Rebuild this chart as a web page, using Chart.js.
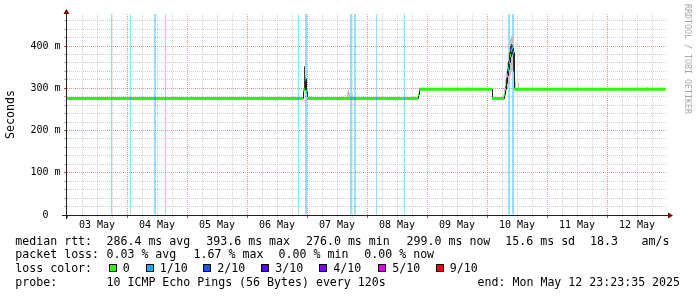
<!DOCTYPE html>
<html>
<head>
<meta charset="utf-8">
<script src="https://cdn.jsdelivr.net/npm/chart.js@4.4.1/dist/chart.umd.min.js"></script>
<style>
  body { margin: 0; background: #fff; }
  #wrap { position: relative; width: 697px; height: 297px; overflow: hidden; background: #fff; }
  #wrap canvas { position: absolute; left: 0; top: 0; }
  .t { position: absolute; font: 11.6px "DejaVu Sans Mono", monospace; line-height: 14px; white-space: pre; color: #000; }
  .box { position: absolute; width: 8px; height: 8px; box-sizing: border-box; border: 1px solid #000; top: 264px; }
  #wm { position: absolute; left: 683px; top: 4px; writing-mode: vertical-rl; font: 8.3px "DejaVu Sans Mono", monospace; line-height: 10px; color: #a8a8a8; white-space: pre; }
</style>
</head>
<body>
<div id="wrap">
  <canvas id="smoke" width="697" height="297"></canvas>
  <div class="t" style="left:15.3px;top:234px">median rtt:</div>
  <div class="t" style="left:106.5px;top:234px">286.4 ms avg</div>
  <div class="t" style="left:206.3px;top:234px">393.6 ms max</div>
  <div class="t" style="left:306px;top:234px">276.0 ms min</div>
  <div class="t" style="left:406.6px;top:234px">299.0 ms now</div>
  <div class="t" style="left:505.3px;top:234px">15.6 ms sd</div>
  <div class="t" style="left:590px;top:234px">18.3</div>
  <div class="t" style="left:641.6px;top:234px">am/s</div>

  <div class="t" style="left:15.3px;top:247px">packet loss:</div>
  <div class="t" style="left:106.5px;top:247px">0.03 % avg</div>
  <div class="t" style="left:193.6px;top:247px">1.67 % max</div>
  <div class="t" style="left:278.6px;top:247px">0.00 % min</div>
  <div class="t" style="left:364.3px;top:247px">0.00 % now</div>

  <div class="t" style="left:15.3px;top:261px">loss color:</div>
  <div id="losslegend"></div>

  <div class="t" style="left:15.3px;top:275px">probe:</div>
  <div class="t" style="left:106.5px;top:275px">10 ICMP Echo Pings (56 Bytes) every 120s</div>
  <div class="t" style="left:477.6px;top:275px">end: Mon May 12 23:23:35 2025</div>

  <div id="wm">RRDTOOL / TOBI OETIKER</div>
</div>
<script>
// time is in hours since 03 May 00:00, one rrd step is 0.4 h (24 min)
const STEP = 0.4;
const END_HOUR = 239.4;
const Y_MAX = 476;

const dayLabels = ["03 May", "04 May", "05 May", "06 May", "07 May", "08 May", "09 May", "10 May", "11 May", "12 May"];
const yTickValues = [0, 100, 200, 300, 400];
const yTickText = ["0  ", "100 m", "200 m", "300 m", "400 m"];

const lossLabels = ["0", "1/10", "2/10", "3/10", "4/10", "5/10", "9/10"];
const lossColors = ["#26ff00", "#00b8ff", "#0059ff", "#5e00ff", "#7e00ff", "#dd00ff", "#ff0000"];

// median rtt in ms, each value holds from its start hour to the next start
const medianStart = [0, 94.4, 95.2, 95.6, 96.0, 140.4, 140.8, 170.0, 174.8, 175.2, 175.6, 176.0, 176.4, 176.8, 177.2, 177.6, 178.0, 178.4, 178.8];
const medianValue = [276, 296, 322, 292, 276, 285, 298, 276, 285, 298, 312, 330, 345, 362, 378, 390, 395, 385, 298];

// steps with 1/10 packet loss
const lossStart = [17.6, 25.2, 34.8, 35.2, 39.2, 92.4, 95.2, 95.6, 113.2, 113.6, 114.8, 115.2, 123.6, 134.8, 176.4, 176.8, 178.0, 178.4];

// smoke: spread of the single pings (ms)
const smokeStart = [75.2, 110.4, 111.2, 112.0, 112.4, 112.8, 114.0, 142.4, 156.0, 160.0, 161.2, 174.4, 174.8, 175.2, 175.6, 176.0, 176.4, 176.8, 177.2, 177.6, 178.0, 178.4, 178.8, 179.2, 180.4, 218.0, 232.0];
const smokeLow  = [276, 276, 276, 276, 276, 276, 276, 298, 298, 298, 298, 272, 275, 282, 290, 300, 310, 320, 330, 340, 345, 320, 300, 296, 298, 298, 298];
const smokeHigh = [279, 282, 285, 291, 298, 289, 286, 302, 303, 304, 302, 284, 300, 320, 340, 362, 385, 405, 418, 425, 428, 420, 383, 318, 315, 302, 303];
// dense part of the smoke
const coreStart = [94.8, 175.2, 175.6, 176.0, 176.4, 176.8, 177.2, 177.6, 178.0, 178.4];
const coreLow   = [296, 290, 300, 315, 330, 345, 360, 375, 380, 340];
const coreHigh  = [352, 305, 325, 345, 365, 385, 400, 405, 402, 395];

const MONO = '"DejaVu Sans Mono", monospace';
const GRID_MINOR = 'rgba(191,191,191,0.75)';
const GRID_MAJOR = 'rgba(222,79,79,0.6)';
const NONE = 'rgba(0,0,0,0)';

// loss color legend row
const boxLeft = [108.7, 145.7, 203.3, 261.3, 319.3, 378.3, 435.7];
const legend = document.getElementById('losslegend');
lossLabels.forEach((lab, i) => {
  const b = document.createElement('div');
  b.className = 'box';
  b.style.left = boxLeft[i] + 'px';
  b.style.background = lossColors[i];
  legend.appendChild(b);
  const t = document.createElement('div');
  t.className = 't';
  t.style.left = (boxLeft[i] + 14) + 'px';
  t.style.top = '261px';
  t.textContent = lab;
  legend.appendChild(t);
});

const runs = medianStart.map((s, i) => ({
  s, e: i + 1 < medianStart.length ? medianStart[i + 1] : END_HOUR, v: medianValue[i]
}));
const medAt = (h) => {
  let v = medianValue[0];
  runs.forEach(r => { if (r.s <= h + 1e-6) v = r.v; });
  return v;
};

const bandData = [];
runs.forEach(r => bandData.push({x: r.s, y: r.v}, {x: r.e, y: r.v}, {x: r.e, y: null}));

const lineData = runs.map(r => ({x: r.s + STEP / 2, y: r.v}));
lineData.push({x: END_HOUR, y: medianValue[medianValue.length - 1]});

const lossBand = [];
lossStart.forEach(h => lossBand.push({x: h, y: medAt(h)}, {x: h + STEP, y: medAt(h)}, {x: h + STEP, y: null}));

const barBase = {type: 'bar', grouped: false, barThickness: 1, inflateAmount: 0, borderWidth: 0};

const tv = c => (c && c.tick ? c.tick.value : NaN);

const axisArrows = {
  id: 'axisArrows',
  afterDraw(chart) {
    const {ctx, chartArea: a} = chart;
    ctx.save();
    ctx.strokeStyle = '#212121';
    ctx.lineWidth = 1;
    ctx.beginPath();
    ctx.moveTo(a.left - 0.5, a.bottom + 4);
    ctx.lineTo(a.left - 0.5, a.top - 2);
    ctx.moveTo(a.left - 5, a.bottom + 0.5);
    ctx.lineTo(a.right + 2, a.bottom + 0.5);
    ctx.stroke();
    ctx.fillStyle = '#800000';
    ctx.beginPath();
    ctx.moveTo(a.left - 3.5, a.top);
    ctx.lineTo(a.left + 2.5, a.top);
    ctx.lineTo(a.left - 0.5, a.top - 5);
    ctx.fill();
    ctx.beginPath();
    ctx.moveTo(a.right + 1, a.bottom - 2.5);
    ctx.lineTo(a.right + 1, a.bottom + 3.5);
    ctx.lineTo(a.right + 6, a.bottom + 0.5);
    ctx.fill();
    ctx.restore();
  }
};

new Chart(document.getElementById('smoke'), {
  type: 'line',
  data: {
    datasets: [
      Object.assign({}, barBase, {
        order: 6,
        data: lossStart.map(h => ({x: h + STEP / 2, y: [0, Y_MAX]})),
        backgroundColor: 'rgba(0,184,255,0.42)'
      }),
      Object.assign({}, barBase, {
        order: 5,
        data: smokeStart.map((h, i) => ({x: h + STEP / 2, y: [smokeLow[i], smokeHigh[i]]})),
        backgroundColor: '#c4c4c4'
      }),
      Object.assign({}, barBase, {
        order: 4,
        data: coreStart.map((h, i) => ({x: h + STEP / 2, y: [coreLow[i], coreHigh[i]]})),
        backgroundColor: '#3a3a3a'
      }),
      {
        order: 3, data: lineData, stepped: true,
        borderColor: '#202020', borderWidth: 1, pointRadius: 0, fill: false
      },
      {
        order: 2, data: bandData, spanGaps: false,
        borderColor: lossColors[0], borderWidth: 3, borderCapStyle: 'butt', pointRadius: 0, fill: false
      },
      {
        order: 1, data: lossBand, spanGaps: false,
        borderColor: lossColors[1], borderWidth: 3, borderCapStyle: 'butt', pointRadius: 0, fill: false
      }
    ]
  },
  options: {
    responsive: false,
    animation: false,
    events: [],
    layout: { padding: { top: 14, right: 30, left: 0, bottom: 0 } },
    plugins: { legend: { display: false }, tooltip: { enabled: false } },
    scales: {
      x: {
        type: 'linear', min: 0, max: 240, offset: false,
        afterFit: s => { s.height = 82; },
        ticks: {
          stepSize: 6, autoSkip: false, maxRotation: 0, padding: 1,
          font: { family: MONO, size: 10 }, color: '#000',
          callback: v => (v % 24 === 12 ? dayLabels[(v - 12) / 24] : '')
        },
        grid: {
          offset: false,
          tickLength: 3,
          color: c => { const v = tv(c); return (!(v > 0) || v >= 240) ? NONE : (v % 24 === 0 ? GRID_MAJOR : GRID_MINOR); },
          tickColor: c => { const v = tv(c); return (isNaN(v) || v >= 240) ? NONE : (v % 24 === 0 ? '#c84040' : 'rgba(191,191,191,0.5)'); }
        },
        border: { display: false, dash: [1, 1] }
      },
      y: {
        min: 0, max: Y_MAX,
        afterFit: s => { s.width = 67; },
        title: {
          display: true, text: 'Seconds', color: '#000',
          font: { family: MONO, size: 11.6, lineHeight: 1.2 },
          padding: { top: 4, bottom: 0 }
        },
        ticks: {
          stepSize: 20, autoSkip: false, includeBounds: false, padding: 3.5,
          font: { family: MONO, size: 10 }, color: '#000',
          callback: v => { const i = yTickValues.indexOf(v); return i >= 0 ? yTickText[i] : ''; }
        },
        grid: {
          tickLength: 3,
          color: c => { const v = tv(c); return (!(v > 0) || v % 20 !== 0) ? NONE : (v % 100 === 0 ? GRID_MAJOR : GRID_MINOR); },
          tickColor: c => { const v = tv(c); return (isNaN(v) || v % 20 !== 0) ? NONE : (v % 100 === 0 ? '#c84040' : 'rgba(160,160,160,0.8)'); }
        },
        border: { display: false, dash: [1, 1] }
      }
    }
  },
  plugins: [axisArrows]
});
</script>
</body>
</html>
